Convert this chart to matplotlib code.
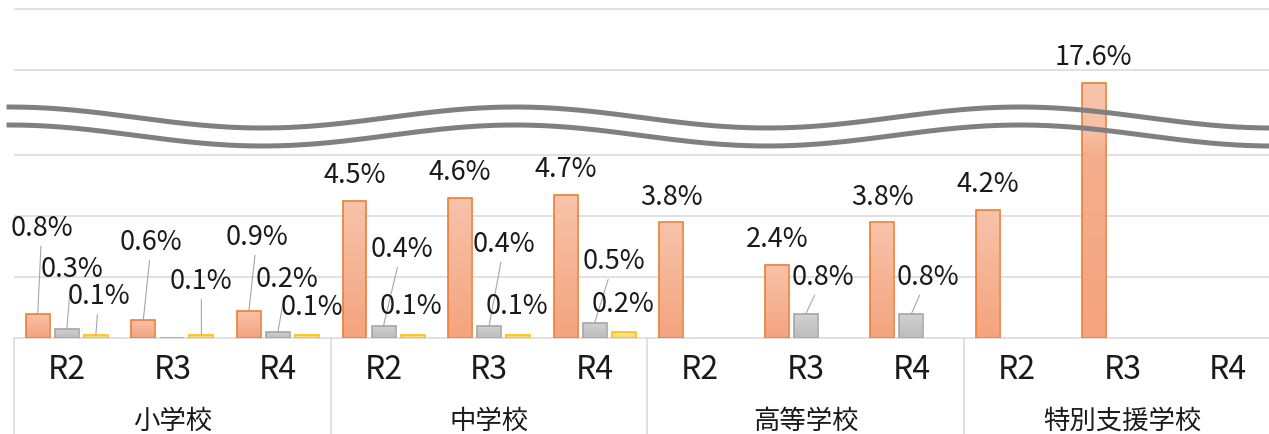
import numpy as np
import matplotlib
matplotlib.use('Agg')
import matplotlib.pyplot as plt
from matplotlib.transforms import blended_transform_factory

plt.rcParams['font.family'] = ['Noto Sans CJK JP', 'DejaVu Sans']

# --- data -------------------------------------------------------------
schools = ['小学校', '中学校', '高等学校', '特別支援学校']
years = ['R2', 'R3', 'R4']

# values in %, one per (school, year); None = no bar
orange_vals = [0.8, 0.6, 0.9, 4.5, 4.6, 4.7, 3.8, 2.4, 3.8, 4.2, 17.6, None]
gray_vals = [0.3, 0.0, 0.2, 0.4, 0.4, 0.5, None, 0.8, 0.8, None, None, None]
yellow_vals = [0.1, 0.1, 0.1, 0.1, 0.1, 0.2, None, None, None, None, None, None]

# --- style ------------------------------------------------------------
GRID = '#D9D9D9'
TEXT = '#1A1A1A'
series = [
    # values, offset (category units), top colour, bottom colour, edge
    (orange_vals, -0.275, '#F7C3AA', '#F4A47F', '#ED7D31'),
    (gray_vals, 0.0, '#D2D2D2', '#BDBDBD', '#A5A5A5'),
    (yellow_vals, 0.275, '#FFE9A8', '#FFD966', '#FFC000'),
]
BAR_W = 0.227

# label placement (pixels: dx right, dy up from bar top), leader line flag
label_pos = {
    (0, 0): (4, 85, True), (1, 0): (5, 59, True), (2, 0): (3, 38, True),
    (0, 1): (8, 77, True), (2, 1): (0, 53, True),
    (0, 2): (8, 73, True), (1, 2): (9, 52, True), (2, 2): (5, 27, False),
    (1, 3): (18, 76, True), (2, 3): (-2, 28, False),
    (1, 4): (15, 81, True), (2, 4): (-1, 28, False),
    (1, 5): (19, 61, True), (2, 5): (-1, 27, False),
    (1, 7): (17, 36, True), (1, 8): (16, 36, True),
}

# broken y axis: 6..16 squeezed
B = 6.77
C = (B - 6) / 10


def fwd(y):
    y = np.asarray(y, float)
    return np.where(y <= 6, y, np.where(y < 16, 6 + (y - 6) * C, y - 16 + B))


def inv(u):
    u = np.asarray(u, float)
    return np.where(u <= 6, u, np.where(u < B, 6 + (u - 6) / C, u - B + 16))


W, H = 1269, 434
fig = plt.figure(figsize=(W / 100, H / 100), dpi=100)
ax = fig.add_axes([14 / W, 96 / H, 1267 / W, 338 / H])
ax.set_yscale('function', functions=(fwd, inv))
ax.set_ylim(0, 20.31)
ax.set_xlim(-0.5, 11.5)

ax.set_yticks([2, 4, 6, 18, 20])
ax.yaxis.grid(True, color=GRID, lw=1.1)
ax.set_axisbelow(True)
ax.tick_params(left=False, labelleft=False, bottom=False, labelbottom=False)
for s in ['left', 'right', 'top']:
    ax.spines[s].set_visible(False)
ax.spines['bottom'].set_color(GRID)
ax.spines['bottom'].set_linewidth(1.1)

n = len(schools) * len(years)
xs = np.arange(n)
grad = np.linspace(0, 1, 64).reshape(-1, 1)

for si, (vals, off, top_c, bot_c, edge) in enumerate(series):
    cmap = matplotlib.colors.LinearSegmentedColormap.from_list('g', [bot_c, top_c])
    for i, v in enumerate(vals):
        if v is None:
            continue
        x = xs[i] + off
        bars = ax.bar(x, v, width=BAR_W, facecolor='none', edgecolor=edge,
                      linewidth=1.2, zorder=3)
        if v > 0:
            im = ax.imshow(grad, extent=[x - BAR_W / 2, x + BAR_W / 2, 0, v],
                           origin='lower', aspect='auto', cmap=cmap, zorder=2)
            im.set_clip_path(bars[0])
        if v == 0:
            continue
        dx, dy, leader = label_pos.get((si, i), (0, 25, False))
        ax.annotate(f'{v:.1f}%', xy=(x, v), xytext=(dx * 0.72, dy * 0.72),
                    textcoords='offset points', ha='center', va='center',
                    fontsize=19.5, color=TEXT, zorder=5,
                    arrowprops=dict(arrowstyle='-', color='#A6A6A6', lw=0.8,
                                    shrinkA=1, shrinkB=0) if leader else None)

ax.set_xlim(-0.5, 11.5)
ax.set_ylim(0, 20.31)

# category axis below the plot
tr = blended_transform_factory(ax.transData, ax.transAxes)
for g in range(len(schools)):
    ax.plot([g * 3 - 0.5] * 2, [0, -0.3], transform=tr, color=GRID, lw=1.1,
            clip_on=False)
    ax.text(g * 3 + 1, -0.246, schools[g], transform=tr, ha='center',
            va='center', fontsize=19, color=TEXT)
    for k, yr in enumerate(years):
        ax.text(g * 3 + k, -0.094, yr, transform=tr, ha='center',
                va='center', fontsize=23, color=TEXT)

# wavy break marks
px = np.linspace(9, W, 400)
upper = 117.5 - 10.5 * np.cos(2 * np.pi * (px - 10) / 505)
for yy in (upper, upper + 18):
    fig.add_artist(plt.Line2D(px / W, 1 - yy / H, transform=fig.transFigure,
                              color='#808080', lw=3.6, zorder=10))

fig.savefig('out.png', dpi=100)
